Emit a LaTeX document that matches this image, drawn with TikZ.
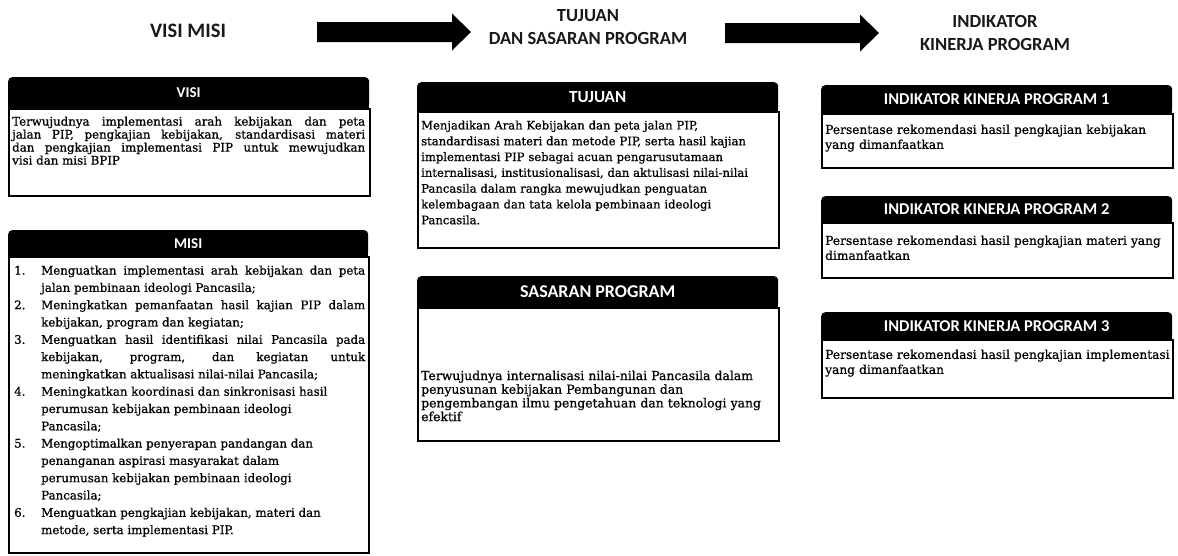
\documentclass[tikz,border=0pt]{standalone}
\usepackage{fontspec}
\setmainfont{DejaVu Serif}
\newfontfamily\isifont{DejaVu Serif}[FakeBold=0.8]
\newfontfamily\judulfont{Carlito}
\usetikzlibrary{positioning,shadows}
\setlength{\parindent}{0pt}
\tolerance=10000
\hbadness=10000
\hyphenpenalty=10000
\exhyphenpenalty=10000

\begin{document}
\begin{tikzpicture}
	[
	x=1pt, y=-1pt, >=latex,
	%Voreinstellungen
	judul/.style={font=\judulfont\bfseries\fontsize{18.5}{23}\selectfont, align=center, inner sep=0pt, text=black!90},
	kepala/.style={fill=black, text=white, rounded corners=4pt, anchor=north west, inner sep=0pt, font=\judulfont\bfseries\fontsize{17}{20}\selectfont},
	badan/.style={draw=black, line width=1.5pt, fill=white, anchor=north west, inner sep=0pt,
		drop shadow={shadow xshift=-1pt, shadow yshift=-1pt, fill=black, opacity=1}},
	isi/.style={anchor=north west, inner sep=0pt, text width=380pt, align=left, font=\isifont\fontsize{12.2}{15}\selectfont}
	]
	\useasboundingbox (0,0) rectangle (1178,555);
	
	%Judul
	\node[judul, font=\judulfont\bfseries\fontsize{20.5}{23}\selectfont] (judulVisi) at (188,31) {VISI MISI};
	\node[judul] (judulTujuan) at (588,27) {TUJUAN\\DAN SASARAN PROGRAM};
	\node[judul] (judulIndikator) at (995,33) {INDIKATOR\\KINERJA PROGRAM};
	
	%Panah
	\coordinate (panah1) at (317,32);
	\coordinate (panah2) at (725,33);
	\foreach \p in {panah1,panah2}
		\fill (\p) ++(0,-10) -- ++(135,0) -- ++(0,-8.5) -- ++(19,18.5) -- ++(-19,18.5) -- ++(0,-8.5) -- ++(-135,0) -- cycle;
	
	%Visi
	\node[kepala, minimum width=361pt, minimum height=31pt, font=\judulfont\bfseries\fontsize{15}{18}\selectfont] (visiKepala) at (8,77) {VISI};
	\fill (visiKepala.south west) rectangle ([yshift=5pt]visiKepala.south east);
	\node[badan, minimum width=361pt, minimum height=87pt] (visiBadan) at (visiKepala.south west) {};
	\node[isi, text width=353pt, align=justify, font=\isifont\fontsize{11.8}{13}\selectfont, below right=8pt and 4pt of visiBadan.north west] (visiIsi) {Terwujudnya implementasi arah kebijakan dan peta\linebreak jalan PIP, pengkajian kebijakan, standardisasi materi\linebreak dan pengkajian implementasi PIP untuk mewujudkan\linebreak visi dan misi BPIP};
	
	%Misi
	\node[kepala, minimum width=360pt, minimum height=26pt, font=\judulfont\bfseries\fontsize{15}{18}\selectfont] (misiKepala) at (8,230) {MISI};
	\fill (misiKepala.south west) rectangle ([yshift=5pt]misiKepala.south east);
	\node[badan, minimum width=360pt, minimum height=296pt] (misiBadan) at (misiKepala.south west) {};
	\node[isi, text width=351pt, align=justify, font=\isifont\fontsize{11.8}{17.3}\selectfont, below right=9pt and 6pt of misiBadan.north west] (misiIsi) {%
		\hangindent=27pt\hangafter=1\makebox[27pt][l]{1.}Menguatkan implementasi arah kebijakan dan peta\linebreak jalan pembinaan ideologi Pancasila;\par
		\hangindent=27pt\hangafter=1\makebox[27pt][l]{2.}Meningkatkan pemanfaatan hasil kajian PIP dalam\linebreak kebijakan, program dan kegiatan;\par
		\hangindent=27pt\hangafter=1\makebox[27pt][l]{3.}Menguatkan hasil identifikasi nilai Pancasila pada\linebreak kebijakan, program, dan kegiatan untuk\linebreak meningkatkan aktualisasi nilai-nilai Pancasila;\par
		\hangindent=27pt\hangafter=1\makebox[27pt][l]{4.}Meningkatkan koordinasi dan sinkronisasi hasil\newline perumusan kebijakan pembinaan ideologi\newline Pancasila;\par
		\hangindent=27pt\hangafter=1\makebox[27pt][l]{5.}Mengoptimalkan penyerapan pandangan dan\newline penanganan aspirasi masyarakat dalam\newline perumusan kebijakan pembinaan ideologi\newline Pancasila;\par
		\hangindent=27pt\hangafter=1\makebox[27pt][l]{6.}Menguatkan pengkajian kebijakan, materi dan\newline metode, serta implementasi PIP.\par};
	
	%Tujuan
	\node[kepala, minimum width=361pt, minimum height=29pt] (tujuanKepala) at (417,82) {TUJUAN};
	\fill (tujuanKepala.south west) rectangle ([yshift=5pt]tujuanKepala.south east);
	\node[badan, minimum width=361pt, minimum height=136pt] (tujuanBadan) at (tujuanKepala.south west) {};
	\node[isi, font=\isifont\fontsize{11.6}{15.8}\selectfont, below right=9pt and 4pt of tujuanBadan.north west] (tujuanIsi) {Menjadikan Arah Kebijakan dan peta jalan PIP,\\ standardisasi materi dan metode PIP, serta hasil kajian\\ implementasi PIP sebagai acuan pengarusutamaan\\ internalisasi, institusionalisasi, dan aktulisasi nilai-nilai\\ Pancasila dalam rangka mewujudkan penguatan\\ kelembagaan dan tata kelola pembinaan ideologi\\ Pancasila.};
	
	%Sasaran
	\node[kepala, minimum width=361pt, minimum height=31pt, font=\judulfont\bfseries\fontsize{18}{20}\selectfont] (sasaranKepala) at (417,276) {SASARAN PROGRAM};
	\fill (sasaranKepala.south west) rectangle ([yshift=5pt]sasaranKepala.south east);
	\node[badan, minimum width=361pt, minimum height=133pt] (sasaranBadan) at (sasaranKepala.south west) {};
	\node[isi, font=\isifont\fontsize{12.4}{13.7}\selectfont, below right=63pt and 4pt of sasaranBadan.north west] (sasaranIsi) {Terwujudnya internalisasi nilai-nilai Pancasila dalam\\ penyusunan kebijakan Pembangunan dan\\ pengembangan ilmu pengetahuan dan teknologi yang\\ efektif};
	
	%Indikator 1
	\node[kepala, minimum width=351pt, minimum height=28pt, font=\judulfont\bfseries\fontsize{16.5}{20}\selectfont] (ikp1Kepala) at (821,85) {INDIKATOR KINERJA PROGRAM 1};
	\fill (ikp1Kepala.south west) rectangle ([yshift=5pt]ikp1Kepala.south east);
	\node[badan, minimum width=351pt, minimum height=54pt] (ikp1Badan) at (ikp1Kepala.south west) {};
	\node[isi, below right=11pt and 4pt of ikp1Badan.north west] (ikp1Isi) {Persentase rekomendasi hasil pengkajian kebijakan\\ yang dimanfaatkan};
	
	%Indikator 2
	\node[kepala, minimum width=351pt, minimum height=26pt, font=\judulfont\bfseries\fontsize{16.5}{20}\selectfont] (ikp2Kepala) at (821,196) {INDIKATOR KINERJA PROGRAM 2};
	\fill (ikp2Kepala.south west) rectangle ([yshift=5pt]ikp2Kepala.south east);
	\node[badan, minimum width=351pt, minimum height=55pt] (ikp2Badan) at (ikp2Kepala.south west) {};
	\node[isi, below right=13pt and 4pt of ikp2Badan.north west] (ikp2Isi) {Persentase rekomendasi hasil pengkajian materi yang\\ dimanfaatkan};
	
	%Indikator 3
	\node[kepala, minimum width=351pt, minimum height=27pt, font=\judulfont\bfseries\fontsize{16.5}{20}\selectfont] (ikp3Kepala) at (821,312) {INDIKATOR KINERJA PROGRAM 3};
	\fill (ikp3Kepala.south west) rectangle ([yshift=5pt]ikp3Kepala.south east);
	\node[badan, minimum width=351pt, minimum height=58pt] (ikp3Badan) at (ikp3Kepala.south west) {};
	\node[isi, below right=10pt and 4pt of ikp3Badan.north west] (ikp3Isi) {Persentase rekomendasi hasil pengkajian implementasi\\ yang dimanfaatkan};
\end{tikzpicture}
\end{document}
